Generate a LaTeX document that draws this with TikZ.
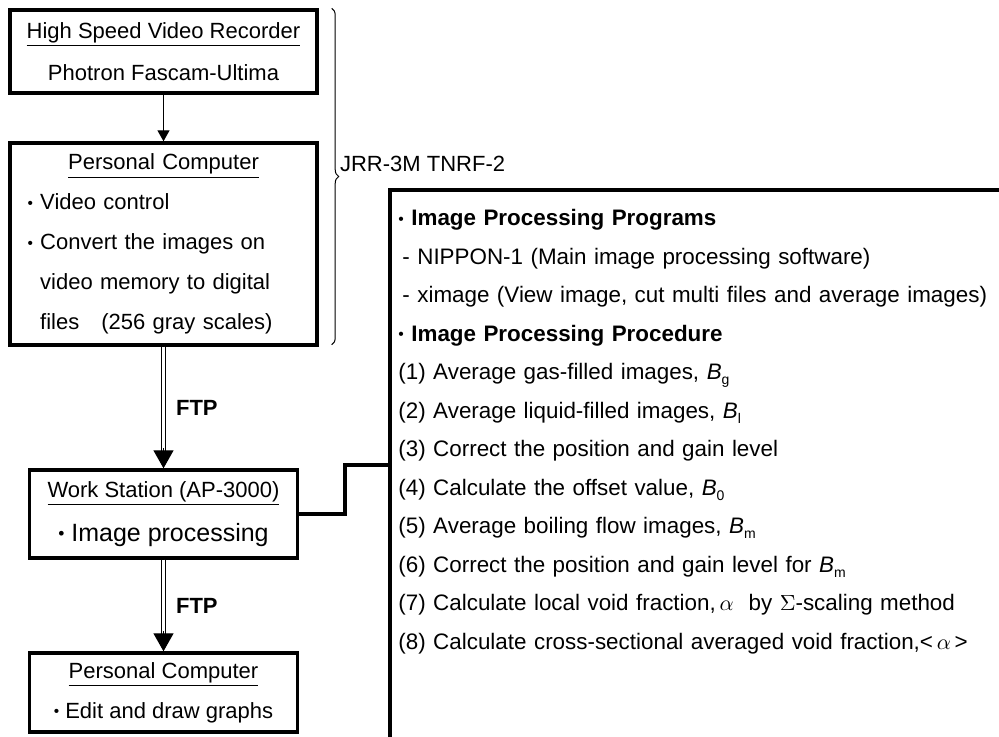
\documentclass[tikz,border=0pt]{standalone}
\usepackage{graphicx}
\usepackage{fontspec}
\setmainfont{Liberation Sans}
\usetikzlibrary{positioning,arrows.meta,calc,decorations.pathreplacing}
\newcommand{\bul}{\raisebox{0.12ex}{\scalebox{0.7}{\textbullet}}}
\newcommand{\Bsub}[1]{\textit{B}\raisebox{-0.45ex}{\scriptsize #1}}

\begin{document}
\begin{tikzpicture}[x=0.5pt,y=-0.5pt,
  font=\fontsize{11}{20}\selectfont,
  box/.style={draw,line width=1.7pt,inner xsep=6pt,inner ysep=0pt,align=center},
  steps/.style={inner xsep=4pt,inner ysep=9.5pt,align=left,text width=302pt,
                font=\fontsize{11.2}{19.25}\selectfont},
  frame/.style={line width=1.7pt},
  thin/.style={-{Triangle[length=5.5pt,width=6pt]},line width=0.6pt},
  dbl/.style={double,double distance=1.2pt,line width=0.6pt,shorten >=8pt},
  ftphead/.style={-{Triangle[length=9pt,width=10pt]},line width=0.6pt},
  tag/.style={font=\fontsize{11}{13}\selectfont\bfseries,inner sep=0pt},
  link/.style={line width=1.6pt},
  brc/.style={decorate,decoration={brace,amplitude=3.5pt},line width=0.5pt}]
\useasboundingbox (0,0) rectangle (999,736);

% ---- left column: recorder, PC, work station, PC ----
\node[box,minimum width=153.5pt,minimum height=41.5pt,
      font=\fontsize{11}{21}\selectfont] (rec) at (163.5,51.5)
  {\underline{High Speed Video Recorder}\\ Photron Fascam-Ultima};
\node[box,minimum width=153.5pt,minimum height=101pt,text width=136pt,align=left]
  (pc) at (163.5,244)
  {\makebox[\linewidth]{\underline{Personal Computer}}\\
   \bul\ Video control\\
   \bul\ Convert the images on\\
   \phantom{\bul\ }video memory to digital\\
   \phantom{\bul\ }files\quad(256 gray scales)};
\node[box,minimum width=134pt,minimum height=44pt,
      font=\fontsize{11}{22}\selectfont] (ws) at (163.5,514)
  {\underline{Work Station (AP-3000)}\\
   {\fontsize{12.5}{22}\selectfont\bul\ Image processing}};
\node[box,minimum width=134pt,minimum height=39.5pt] (pcb) at (163.5,692.5)
  {\underline{Personal Computer}\\ \bul\ Edit and draw graphs};

\draw[thin] (rec.south) -- (pc.north);
\draw[dbl] (pc.south) -- (ws.north) node[midway,right=6pt,tag] (ftpa) {FTP};
\draw[ftphead] ($(ws.north)+(0,-20)$) -- (ws.north);
\draw[dbl] (ws.south) -- (pcb.north) node[midway,right=6pt,tag] (ftpb) {FTP};
\draw[ftphead] ($(pcb.north)+(0,-20)$) -- (pcb.north);

% ---- facility brace ----
\draw[brc] ($(rec.north east)+(13,0)$) -- ($(pc.south east)+(13,-2)$);
\node[anchor=west,inner sep=0pt] (jrr)
  at ($(rec.north east)!0.5!(pc.south east)+(21,-14)$) {JRR-3M TNRF-2};

% ---- processing list (runs off the page) ----
\node[steps,anchor=north west] (proc) at (390,190)
  {\bul\ \textbf{Image Processing Programs}\\
   \hspace*{2pt}- NIPPON-1 (Main image processing software)\\
   \hspace*{2pt}- ximage (View image, cut multi files and average images)\\
   \bul\ \textbf{Image Processing Procedure}\\
   (1) Average gas-filled images, \Bsub{g}\\
   (2) Average liquid-filled images, \Bsub{l}\\
   (3) Correct the position and gain level\\
   (4) Calculate the offset value, \Bsub{0}\\
   (5) Average boiling flow images, \Bsub{m}\\
   (6) Correct the position and gain level for \Bsub{m}\\
   (7) Calculate local void fraction,\,$\alpha$\ \ by $\Sigma$-scaling method\\
   (8) Calculate cross-sectional averaged void fraction,<\,$\alpha$\,>};
\draw[frame] (proc.north west) rectangle (1012,760);

\coordinate (kink) at (345,465);
\draw[link] (ws.east) -| (kink) -- (kink -| proc.west);
\end{tikzpicture}
\end{document}
